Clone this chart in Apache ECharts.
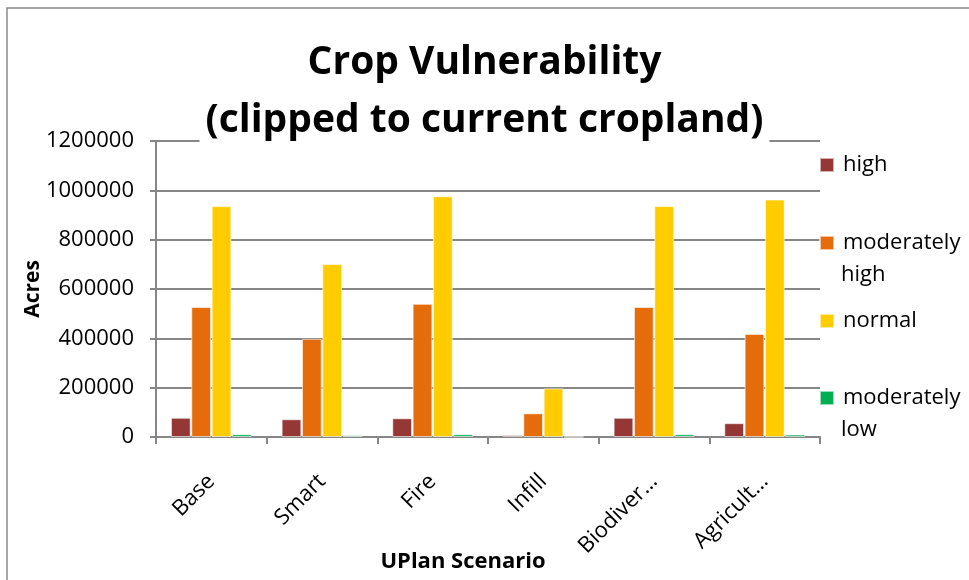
<!DOCTYPE html>
<html>
<head>
<meta charset="utf-8">
<script src="https://cdn.jsdelivr.net/npm/echarts@6/dist/echarts.min.js"></script>
<style>
  html, body { margin: 0; padding: 0; background: #fff; }
  #chart { width: 969px; height: 580px; }
</style>
</head>
<body>
<div id="chart"></div>
<script>
const scenarios = ['Base', 'Smart', 'Fire', 'Infill', 'Biodiver\u2026', 'Agricult\u2026'];
const high = [78000, 72000, 76000, 8000, 78000, 56000];
const moderatelyHigh = [527000, 398000, 540000, 96000, 527000, 418000];
const normal = [936000, 701000, 976000, 197000, 936000, 963000];
const moderatelyLow = [11000, 7000, 11000, 500, 11000, 10000];
const yTicks = [0, 200000, 400000, 600000, 800000, 1000000, 1200000];

const font = '"Open Sans", sans-serif';
const axisGray = '#868686';

const dom = document.getElementById('chart');
const myChart = echarts.init(dom);

const seriesDefs = [
    { name: 'high', data: high, color: '#953735' },
    { name: 'moderately high', data: moderatelyHigh, color: '#E46C0A' },
    { name: 'normal', data: normal, color: '#FFCC00' },
    { name: 'moderately low', data: moderatelyLow, color: '#00B050' }
];

// first line of each legend entry; the second word goes on the next line
const legendTops = [154, 232, 310, 387];

const legendText = {
    fontFamily: font,
    fontSize: 22,
    color: '#000'
};

const option = {
    animation: false,
    title: {
        text: 'Crop Vulnerability\n(clipped to current cropland)',
        left: 'center',
        top: 34,
        backgroundColor: '#fff',
        padding: [0, 6],
        textStyle: {
            fontFamily: font,
            fontSize: 39,
            fontWeight: 'bold',
            color: '#000',
            lineHeight: 58
        }
    },
    legend: seriesDefs.map((s, i) => ({
        data: [s.name],
        left: 819,
        top: legendTops[i],
        icon: 'rect',
        itemWidth: 14,
        itemHeight: 14,
        itemGap: 0,
        padding: 0,
        formatter: function (name) {
            return name.split(' ')[0];
        },
        textStyle: Object.assign({ padding: [0, 0, 0, 4] }, legendText)
    })),
    grid: {
        left: 156,
        right: 149,
        top: 141,
        bottom: 143,
        containLabel: false,
        outerBoundsMode: 'none'
    },
    xAxis: {
        type: 'category',
        data: scenarios,
        name: 'UPlan Scenario',
        nameLocation: 'middle',
        nameGap: 114,
        nameMoveOverlap: false,
        nameTextStyle: {
            fontFamily: font,
            fontSize: 22,
            fontWeight: 'bold',
            color: '#000',
            padding: [0, 50, 0, 0]
        },
        axisLine: { lineStyle: { color: axisGray, width: 2 } },
        axisTick: { show: true, length: 7, lineStyle: { color: axisGray, width: 2 } },
        axisLabel: {
            rotate: 45,
            interval: 0,
            margin: 41,
            fontFamily: font,
            fontSize: 22,
            color: '#000'
        }
    },
    yAxis: {
        type: 'value',
        min: 0,
        max: yTicks[yTicks.length - 1],
        interval: yTicks[1] - yTicks[0],
        name: 'Acres',
        nameLocation: 'middle',
        nameGap: 112,
        nameMoveOverlap: false,
        nameTextStyle: {
            fontFamily: font,
            fontSize: 21,
            fontWeight: 'bold',
            color: '#000'
        },
        axisLine: { show: true, lineStyle: { color: axisGray, width: 2 } },
        axisTick: { show: true, length: 6, lineStyle: { color: axisGray, width: 2 } },
        splitLine: { lineStyle: { color: axisGray, width: 2 } },
        axisLabel: {
            margin: 22,
            fontFamily: font,
            fontSize: 22,
            color: '#000',
            formatter: function (value) {
                return String(value);
            }
        }
    },
    graphic: [
        {
            type: 'rect',
            shape: { x: 7, y: 8, width: 1000, height: 600 },
            style: { fill: 'none', stroke: '#8a8a8a', lineWidth: 1.5 },
            silent: true,
            z: -10
        },
        {
            type: 'text',
            left: 841,
            top: 264,
            style: Object.assign({ text: 'high' }, legendText)
        },
        {
            type: 'text',
            left: 841,
            top: 419,
            style: Object.assign({ text: 'low' }, legendText)
        }
    ],
    series: seriesDefs.map(s => ({
        name: s.name,
        type: 'bar',
        data: s.data,
        barGap: '3%',
        barCategoryGap: '27%',
        itemStyle: {
            color: s.color,
            borderColor: 'rgba(255,255,255,0.6)',
            borderWidth: 1
        }
    }))
};

myChart.setOption(option);
</script>
</body>
</html>
